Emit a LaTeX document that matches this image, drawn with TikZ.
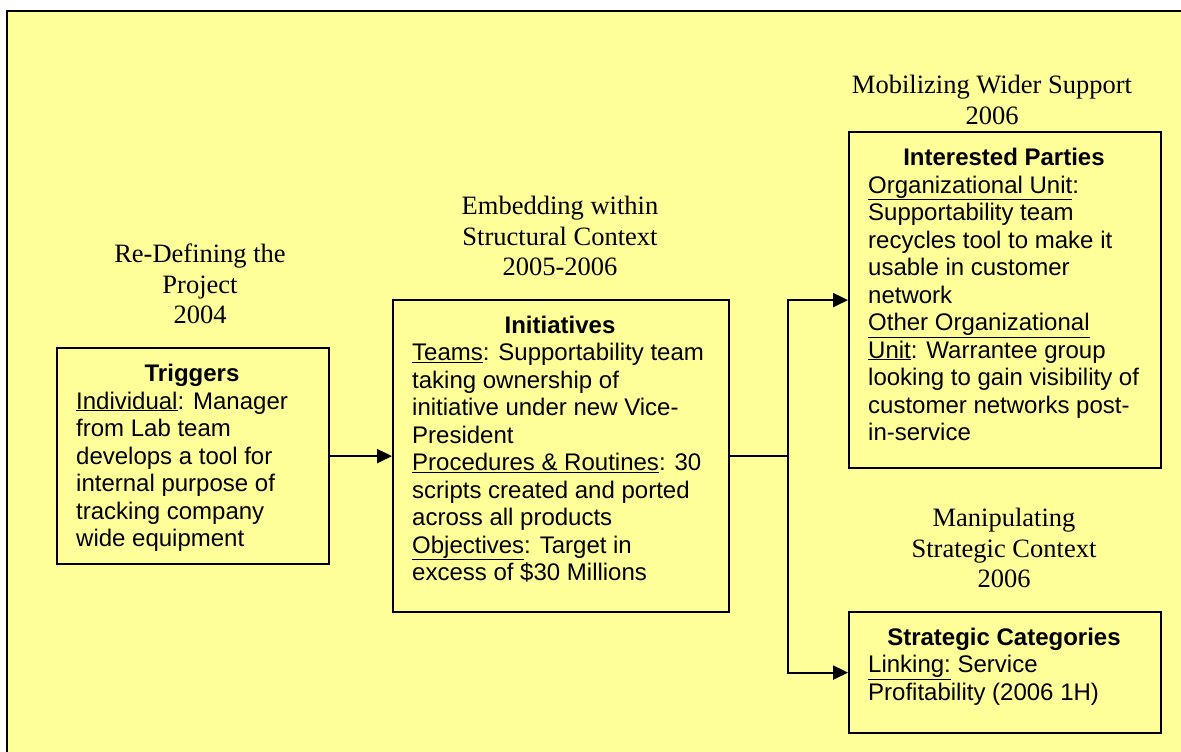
\documentclass[tikz,border=0pt]{standalone}
\usepackage{fontspec}
\setmainfont{Liberation Sans}
\newfontfamily\phasefont{Liberation Serif}
\usetikzlibrary{arrows.meta}
\definecolor{paper}{HTML}{FFFF99}

\begin{document}
\begin{tikzpicture}[x=1pt,y=-1pt,
  stagebox/.style={draw=black, line width=2.2pt, inner sep=0pt, anchor=north west},
  heading/.style={font=\fontsize{24}{27.5}\selectfont\bfseries, inner sep=0pt, anchor=base},
  body/.style={font=\fontsize{24}{27.5}\selectfont, align=left, inner sep=0pt, anchor=base west},
  phase/.style={font=\phasefont\fontsize{26.5}{30.5}\selectfont, align=center, inner sep=0pt, anchor=base},
  link/.style={line width=2.2pt},
  flow/.style={link, -{Triangle[length=15pt,width=14pt]}}]

\useasboundingbox (0,0) rectangle (1181,752);
\fill[white] (0,0) rectangle (1181,752);

% background panel (runs off the right and bottom edges)
\fill[paper] (7,11) rectangle (1181,752);
\draw[line width=2.5pt] (7,752) -- (7,11) -- (1181,11);

% stage boxes
\node[stagebox, minimum width=272pt, minimum height=216pt] (trig)  at (56,347)  {};
\node[stagebox, minimum width=336pt, minimum height=312pt] (init)  at (392,299) {};
\node[stagebox, minimum width=312pt, minimum height=336pt] (inter) at (848,131) {};
\node[stagebox, minimum width=312pt, minimum height=121pt] (strat) at (848,611) {};

% phase labels (positioned by the baseline of their last line)
\node[phase] (trigP)  at (200,323.5) {Re-Defining the\\Project\\2004};
\node[phase] (initP)  at (560,275.5) {Embedding within\\Structural Context\\2005-2006};
\node[phase] (interP) at (992,124)   {Mobilizing Wider Support\\2006};
\node[phase] (stratP) at (1004,587.5) {Manipulating\\Strategic Context\\2006};

% box headings
\node[heading] (trigH)  at (192,381.5)  {Triggers};
\node[heading] (initH)  at (560,333)    {Initiatives};
\node[heading] (interH) at (1004,165)   {Interested Parties};
\node[heading] (stratH) at (1004,645)   {Strategic Categories};

% box contents (positioned by the baseline of their last line)
\node[body] (trigB) at (76,546.5) {\underline{Individual}: Manager\\from Lab team\\develops a tool for\\internal purpose of\\tracking company\\wide equipment};
\node[body] (initB) at (412,580.5) {\underline{Teams}: Supportability team\\taking ownership of\\initiative under new Vice-\\President\\\underline{Procedures \& Routines}: 30\\scripts created and ported\\across all products\\\underline{Objectives}: Target in\\excess of \$30 Millions};
\node[body] (interB) at (868,440.5) {\underline{Organizational Unit}:\\Supportability team\\recycles tool to make it\\usable in customer\\network\\\underline{Other Organizational}\\\underline{Unit}: Warrantee group\\looking to gain visibility of\\customer networks post-\\in-service};
\node[body] (stratB) at (868,700) {\underline{Linking:} Service\\Profitability (2006 1H)};

% connectors
\coordinate (trunk) at (788,0);
\coordinate (fork) at (trunk |- init.east);
\draw[flow] (trig.east) -- (init.west);
\draw[link] (init.east) -- (fork);
\draw[flow] (fork) |- (inter.west);
\draw[flow] (fork) |- (strat.west);
\end{tikzpicture}
\end{document}
